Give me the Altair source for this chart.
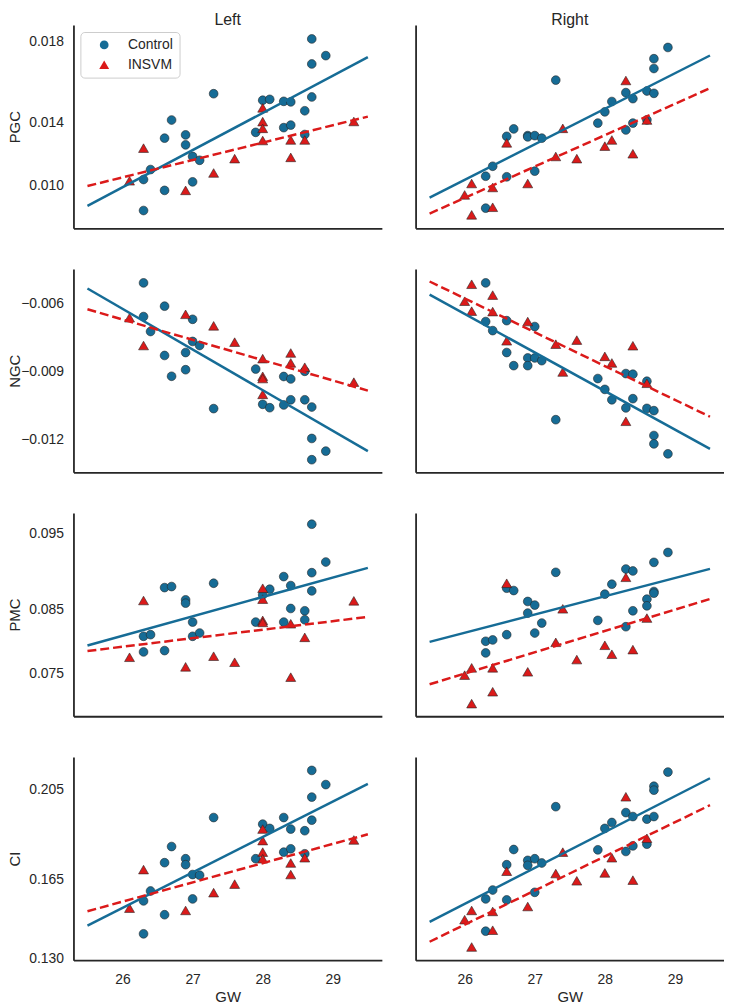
import altair as alt
import pandas as pd

FONT = "Liberation Sans"
INK = "#262626"
GROUPS = ["Control", "INSVM"]
COLORS = ["#166c96", "#db1a1a"]
SHAPES = ["circle", "triangle-up"]
SIDES = ["Left", "Right"]
MEASURES = ["PGC", "NGC", "PMC", "CI"]
X_TICKS = [26, 27, 28, 29]

GW_CONTROL = [26.3, 26.3, 26.4, 26.6, 26.6, 26.7, 26.9, 26.9, 27.0, 27.0, 27.1, 27.3, 27.9,
              28.0, 28.1, 28.3, 28.3, 28.4, 28.4, 28.6, 28.6, 28.7, 28.7, 28.7, 28.9]
GW_INSVM_LEFT = [26.1, 26.3, 26.9, 27.3, 27.6, 28.0, 28.0, 28.0, 28.0, 28.4, 28.4, 28.6, 29.3]
GW_INSVM_RIGHT = [26.0, 26.1, 26.1, 26.4, 26.4, 26.6, 26.9, 27.3, 27.4, 27.6, 28.0, 28.1, 28.3, 28.4, 28.6]

PGC_LEFT_CONTROL = [0.00868, 0.01039, 0.01094, 0.00979, 0.01267, 0.01367, 0.01285, 0.01230, 0.01026,
                    0.01166, 0.01145, 0.01512, 0.01299, 0.01476, 0.01481, 0.01470, 0.01325, 0.01467,
                    0.01339, 0.01418, 0.01287, 0.01814, 0.01676, 0.01494, 0.01722]
PGC_LEFT_INSVM = [0.01032, 0.01212, 0.00979, 0.01075, 0.01154, 0.01434, 0.01358, 0.01321, 0.01254,
                  0.01257, 0.01161, 0.01257, 0.01359]
PGC_RIGHT_CONTROL = [0.00881, 0.01057, 0.01112, 0.01054, 0.01277, 0.01318, 0.01281, 0.01274, 0.01281,
                     0.01085, 0.01267, 0.01587, 0.01350, 0.01412, 0.01469, 0.01518, 0.01312, 0.01485,
                     0.01350, 0.01527, 0.01368, 0.01514, 0.01651, 0.01705, 0.01767]
PGC_RIGHT_INSVM = [0.00954, 0.01017, 0.00844, 0.00995, 0.00886, 0.01241, 0.01017, 0.01166, 0.01321,
                   0.01154, 0.01223, 0.01257, 0.01585, 0.01181, 0.01367]

NGC_LEFT_CONTROL = [-0.00509, -0.00658, -0.00724, -0.00612, -0.00830, -0.00922, -0.00817, -0.00893,
                    -0.00670, -0.00768, -0.00786, -0.01065, -0.00890, -0.01046, -0.01061, -0.00923,
                    -0.01049, -0.00934, -0.01026, -0.00900, -0.01026, -0.01058, -0.01197, -0.01291,
                    -0.01253]
NGC_LEFT_INSVM = [-0.00663, -0.00786, -0.00648, -0.00699, -0.00771, -0.00844, -0.00922, -0.00932,
                  -0.01002, -0.00819, -0.00863, -0.00882, -0.00948]
NGC_RIGHT_CONTROL = [-0.00509, -0.00680, -0.00720, -0.00676, -0.00817, -0.00875, -0.00841, -0.00875,
                     -0.00702, -0.00841, -0.00853, -0.01114, -0.00932, -0.00980, -0.01026, -0.00910,
                     -0.01062, -0.00913, -0.01021, -0.00944, -0.01064, -0.01074, -0.01184, -0.01221,
                     -0.01265]
NGC_RIGHT_INSVM = [-0.00590, -0.00515, -0.00634, -0.00563, -0.00636, -0.00765, -0.00680, -0.00780,
                   -0.00903, -0.00762, -0.00834, -0.00863, -0.01121, -0.00787, -0.00953]

PMC_LEFT_CONTROL = [0.08064, 0.07841, 0.08087, 0.07860, 0.08759, 0.08774, 0.08584, 0.08537, 0.08267,
                    0.08064, 0.08111, 0.08821, 0.08267, 0.08655, 0.08736, 0.08916, 0.08267, 0.08788,
                    0.08461, 0.08428, 0.08300, 0.09663, 0.08972, 0.08712, 0.09124]
PMC_LEFT_INSVM = [0.07765, 0.08575, 0.07628, 0.07780, 0.07694, 0.08750, 0.08594, 0.08291, 0.08262,
                  0.08243, 0.07481, 0.08049, 0.08570]
PMC_RIGHT_CONTROL = [0.07827, 0.07993, 0.08012, 0.08087, 0.08750, 0.08717, 0.08561, 0.08395, 0.08509,
                     0.08111, 0.08253, 0.08977, 0.08291, 0.08665, 0.08807, 0.09024, 0.08201, 0.08996,
                     0.08428, 0.08594, 0.08499, 0.08703, 0.09119, 0.08679, 0.09261]
PMC_RIGHT_INSVM = [0.07510, 0.07614, 0.07103, 0.07614, 0.07273, 0.08821, 0.07557, 0.07978, 0.08456,
                   0.07732, 0.07936, 0.07808, 0.08906, 0.07874, 0.08324]

CI_LEFT_CONTROL = [0.14085, 0.15549, 0.15989, 0.14934, 0.17248, 0.17966, 0.17424, 0.17160, 0.15637,
                   0.16721, 0.16692, 0.19255, 0.17424, 0.18962, 0.18772, 0.19255, 0.17717, 0.18742,
                   0.17864, 0.18669, 0.17644, 0.21350, 0.20163, 0.19138, 0.20720]
CI_LEFT_INSVM = [0.15227, 0.16941, 0.15125, 0.15915, 0.16296, 0.18742, 0.18230, 0.17717, 0.17424,
                 0.17234, 0.16721, 0.17468, 0.18259]
CI_RIGHT_CONTROL = [0.15637, 0.14202, 0.16033, 0.15593, 0.17160, 0.17834, 0.17351, 0.17131, 0.17424,
                    0.15930, 0.17234, 0.19738, 0.17820, 0.18772, 0.19035, 0.19475, 0.17746, 0.19299,
                    0.17995, 0.19182, 0.18069, 0.19299, 0.20646, 0.20471, 0.21276]
CI_RIGHT_INSVM = [0.14714, 0.15125, 0.13499, 0.15081, 0.14246, 0.16868, 0.15300, 0.16765, 0.17717,
                  0.16443, 0.16794, 0.17468, 0.20178, 0.16472, 0.18332]

Y_DOMAINS = {
    "PGC": [0.007697, 0.018906],
    "NGC": [-0.013467, -0.004476],
    "PMC": [0.06923, 0.09824],
    "CI": [0.12912, 0.2195],
}
Y_TICKS = {
    "PGC": [0.010045, 0.01352, 0.018],
    "NGC": [-0.012, -0.009, -0.006],
    "PMC": [0.07533, 0.08452, 0.09531],
    "CI": [0.130, 0.165, 0.205],
}

DATA = {
    ("PGC", "Left"): (PGC_LEFT_CONTROL, PGC_LEFT_INSVM),
    ("PGC", "Right"): (PGC_RIGHT_CONTROL, PGC_RIGHT_INSVM),
    ("NGC", "Left"): (NGC_LEFT_CONTROL, NGC_LEFT_INSVM),
    ("NGC", "Right"): (NGC_RIGHT_CONTROL, NGC_RIGHT_INSVM),
    ("PMC", "Left"): (PMC_LEFT_CONTROL, PMC_LEFT_INSVM),
    ("PMC", "Right"): (PMC_RIGHT_CONTROL, PMC_RIGHT_INSVM),
    ("CI", "Left"): (CI_LEFT_CONTROL, CI_LEFT_INSVM),
    ("CI", "Right"): (CI_RIGHT_CONTROL, CI_RIGHT_INSVM),
}

W, H = 311, 205
MARKER_SIZES = [78, 100]


def panel(ri, measure, ci, side):
    ctrl, ins = DATA[(measure, side)]
    gw_ins = GW_INSVM_LEFT if side == "Left" else GW_INSVM_RIGHT
    df = pd.DataFrame({
        "gw": GW_CONTROL + gw_ins,
        "value": ctrl + ins,
        "group": [GROUPS[0]] * len(ctrl) + [GROUPS[1]] * len(ins),
    })
    is_left = ci == 0
    is_bottom = ri == len(MEASURES) - 1

    if is_bottom:
        x_axis = alt.Axis(values=X_TICKS, format="d", title="GW", labelPadding=12,
                          titlePadding=4, ticks=False, tickSize=0, labelFontSize=14,
                          titleFontSize=15)
    else:
        x_axis = alt.Axis(labels=False, ticks=False, tickSize=0, title=None)
    if is_left:
        y_axis = alt.Axis(values=Y_TICKS[measure], format=".3f", title=measure,
                          titleX=-59, titleBaseline="middle", labelPadding=10,
                          ticks=False, tickSize=0, labelFontSize=14, titleFontSize=15)
    else:
        y_axis = alt.Axis(labels=False, ticks=False, tickSize=0, title=None)

    x_enc = alt.X("gw:Q", scale=alt.Scale(domain=[25.3, 29.7], nice=False, zero=False), axis=x_axis)
    y_enc = alt.Y("value:Q", scale=alt.Scale(domain=Y_DOMAINS[measure], nice=False, zero=False),
                  axis=y_axis)

    if ri == 0 and ci == 0:
        leg = alt.Legend(title=None, orient="top-left", offset=7, padding=6, rowPadding=6,
                         symbolOffset=11, labelOffset=17, labelFontSize=14, labelFont=FONT,
                         labelColor=INK, fillColor="white", strokeColor="#cccccc",
                         cornerRadius=4, symbolStrokeColor=INK, symbolStrokeWidth=0.6)
    else:
        leg = None

    base = alt.Chart(df)
    points = base.mark_point(filled=True, stroke=INK, strokeWidth=0.6, opacity=1).encode(
        x=x_enc,
        y=y_enc,
        fill=alt.Fill("group:N", scale=alt.Scale(domain=GROUPS, range=COLORS), legend=leg),
        shape=alt.Shape("group:N", scale=alt.Scale(domain=GROUPS, range=SHAPES), legend=leg),
        size=alt.Size("group:N", scale=alt.Scale(domain=GROUPS, range=MARKER_SIZES), legend=leg),
    )
    line_c = base.transform_filter(alt.datum.group == GROUPS[0]).transform_regression(
        "gw", "value", extent=[25.5, 29.5]
    ).mark_line(color=COLORS[0], strokeWidth=2.5).encode(x=x_enc, y=y_enc)
    line_i = base.transform_filter(alt.datum.group == GROUPS[1]).transform_regression(
        "gw", "value", extent=[25.5, 29.5]
    ).mark_line(color=COLORS[1], strokeWidth=2.5, strokeDash=[9, 4]).encode(x=x_enc, y=y_enc)

    layer = alt.layer(points, line_c, line_i)
    props = dict(width=W, height=H)
    if ri == 0:
        props["title"] = alt.TitleParams(text=side, fontSize=16, fontWeight="normal", font=FONT,
                                         color=INK, anchor="middle", frame="group", offset=-3)
    return layer.properties(**props)


rows = []
for ri, measure in enumerate(MEASURES):
    row = alt.hconcat(*[panel(ri, measure, ci, side) for ci, side in enumerate(SIDES)],
                      spacing=34)
    row = row.resolve_scale(fill="independent", shape="independent", size="independent").resolve_legend(
        fill="independent", shape="independent", size="independent")
    rows.append(row)

chart = alt.vconcat(*rows, spacing=41).resolve_scale(
    fill="independent", shape="independent", size="independent").resolve_legend(
    fill="independent", shape="independent", size="independent").properties(padding=0, background="white")

chart = chart.configure_view(stroke=None).configure_axis(
    grid=False, domainColor=INK, domainWidth=1.8, labelFont=FONT, titleFont=FONT,
    labelColor=INK, titleColor=INK, titleFontWeight="normal"
)

chart.save("out.html", embed_options={"renderer": "svg", "actions": False})
